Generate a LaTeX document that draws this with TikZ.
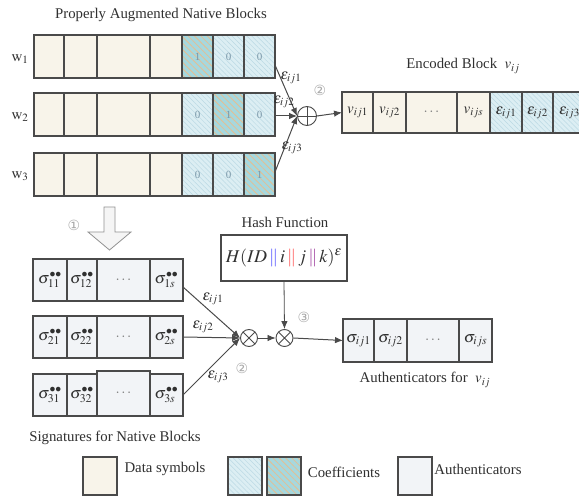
\documentclass[tikz,border=0pt]{standalone}
\usepackage{mathptmx}
\usepackage{fontspec}
\setmainfont{Liberation Serif}
\newfontfamily\djv{DejaVu Sans}
\usetikzlibrary{arrows.meta,patterns.meta}
\definecolor{cream}{HTML}{F8F4EA}
\definecolor{lblue}{HTML}{DCEEF3}
\definecolor{hatchb}{HTML}{BBD9E4}
\definecolor{teal1}{HTML}{A6D8DE}
\definecolor{orng}{HTML}{E6BE92}
\definecolor{authc}{HTML}{F2F4F7}
\definecolor{edge}{HTML}{4A4A4A}
\definecolor{txt}{HTML}{303030}
\definecolor{numc}{HTML}{7A97A8}
\definecolor{circc}{HTML}{A8A8A8}
\newcommand\mkcell[7]{%
  \node[#1, minimum width={(#4-#3)*1pt}, minimum height={(#6-#5)*1pt}] (#2) at ({(#3+#4)/2},{(#5+#6)/2}) {#7};}
\newcommand\sigdd{\sigma^{\bullet\bullet}}
\tikzset{
  every node/.style={text=txt},
  blk/.style={draw=edge, line width=1.1pt, inner sep=0pt, outer sep=0pt},
  data/.style={blk, fill=cream},
  coef/.style={blk, preaction={fill=lblue}, pattern={Lines[angle=-45,distance=3.5pt,line width=0.5pt]}, pattern color=hatchb},
  coefone/.style={blk, preaction={fill=teal1}, pattern={Lines[angle=-45,distance=4.5pt,line width=0.8pt]}, pattern color=orng},
  auth/.style={blk, fill=authc},
  lbl/.style={font=\fontsize{14.8}{16}\selectfont, inner sep=0pt},
  num/.style={font=\fontsize{11}{12}\selectfont, text=numc},
  mth/.style={font=\fontsize{15}{17}\selectfont},
  sig/.style={font=\fontsize{16}{18}\selectfont},
  dig/.style={font=\djv\fontsize{14}{16}\selectfont, text=circc, inner sep=0pt},
  conn/.style={draw=edge, line width=1pt},
  tip/.style={-{Latex[length=8pt,width=6.5pt]}},
  oplus/.style={circle, draw=edge, line width=0.9pt, minimum size=19pt, inner sep=0pt,
    path picture={\draw[edge,line width=0.9pt] (path picture bounding box.north) -- (path picture bounding box.south)
      (path picture bounding box.west) -- (path picture bounding box.east);}},
  otimes/.style={circle, draw=edge, line width=0.9pt, minimum size=17pt, inner sep=0pt,
    path picture={\draw[edge,line width=0.9pt] (path picture bounding box.north west) -- (path picture bounding box.south east)
      (path picture bounding box.north east) -- (path picture bounding box.south west);}},
}
\begin{document}
\begin{tikzpicture}[x=1pt,y=-1pt]
\useasboundingbox (0,0) rectangle (579,497);
\clip (0,0) rectangle (579,497);
\fill[white] (0,0) rectangle (579,497);

% title
\node[lbl] (title) at (161,15) {Properly Augmented Native Blocks};

% native blocks
\foreach \r/\t/\b in {1/35/78,2/93/136,3/153/196}{
  \mkcell{data}{w\r c1}{34}{64}{\t}{\b}{}
  \mkcell{data}{w\r c2}{64}{97}{\t}{\b}{}
  \mkcell{data}{w\r c3}{97}{150}{\t}{\b}{}
  \mkcell{data}{w\r c4}{150}{182}{\t}{\b}{}
}
\mkcell{coefone,num}{w1c5}{182}{213}{35}{78}{1}
\mkcell{coef,num}{w1c6}{213}{244}{35}{78}{0}
\mkcell{coef,num}{w1c7}{244}{275}{35}{78}{0}
\mkcell{coef,num}{w2c5}{182}{213}{93}{136}{0}
\mkcell{coefone,num}{w2c6}{213}{244}{93}{136}{1}
\mkcell{coef,num}{w2c7}{244}{275}{93}{136}{0}
\mkcell{coef,num}{w3c5}{182}{213}{153}{196}{0}
\mkcell{coef,num}{w3c6}{213}{244}{153}{196}{0}
\mkcell{coefone,num}{w3c7}{244}{275}{153}{196}{1}

\node[mth] (lw1) at (20,59) {$\mathrm{w}_1$};
\node[mth] (lw2) at (20,117) {$\mathrm{w}_2$};
\node[mth] (lw3) at (20,176) {$\mathrm{w}_3$};

% combination (upper)
\node[oplus] (plus) at (307,116) {};
\coordinate (o1) at (275,65);
\coordinate (o2) at (275,116);
\coordinate (o3) at (275,172);
\draw[conn,tip] (o1) -- (plus.west);
\draw[conn,tip] (o2) -- (plus.west);
\draw[conn,tip] (o3) -- (plus.west);
\node[mth] (e1) at (291,78) {$\varepsilon_{ij1}$};
\node[mth] (e2) at (284,102) {$\varepsilon_{ij2}$};
\node[mth] (e3) at (292,148) {$\varepsilon_{ij3}$};
\node[dig] (d2a) at (320,90) {②};

% encoded block
\mkcell{data,mth}{v1}{342}{373}{92}{133}{$v_{ij1}$}
\mkcell{data,mth}{v2}{373}{406}{92}{133}{$v_{ij2}$}
\mkcell{data,mth,text=gray}{v3}{406}{457}{92}{133}{$\cdots$}
\mkcell{data,mth}{v4}{457}{490}{92}{133}{$v_{ijs}$}
\mkcell{coef,mth}{v5}{490}{522}{92}{133}{$\varepsilon_{ij1}$}
\mkcell{coef,mth}{v6}{522}{553}{92}{133}{$\varepsilon_{ij2}$}
\mkcell{coef,mth}{v7}{553}{586}{92}{133}{$\varepsilon_{ij3}$}
\draw[conn,tip] (plus.east) -- (v1.west);
\node[lbl] (enc) at (463,66) {Encoded Block \ $v_{ij}$};

% big down arrow
\draw[draw=edge!60, fill=white!96!black, line width=0.8pt]
  (104,207) -- (115,207) -- (115,232) -- (131,232) -- (109.5,250) -- (88,232) -- (104,232) -- cycle;
\node[dig] (d1) at (74,225) {①};

% signatures
\foreach \r/\t/\b in {1/259/301,2/316/358,3/374/416}{
  \mkcell{auth,sig}{s\r c1}{33}{67}{\t}{\b}{$\sigdd_{\r1}$}
  \mkcell{auth,sig}{s\r c2}{67}{97}{\t}{\b}{$\sigdd_{\r2}$}
  \mkcell{auth,sig}{s\r c4}{150}{183}{\t}{\b}{$\sigdd_{\r s}$}
}
\mkcell{auth,mth,text=gray}{s1c3}{97}{150}{259}{301}{$\cdots$}
\mkcell{auth,mth,text=gray}{s2c3}{97}{150}{316}{358}{$\cdots$}
\mkcell{auth,mth,text=gray}{s3c3}{97}{150}{371}{416}{$\cdots$}
\node[lbl] (sigl) at (115,438) {Signatures for Native Blocks};

% combination (lower)
\node[otimes] (mul1) at (249,338) {};
\node[otimes] (mul2) at (284.5,338) {};
\coordinate (q1) at (183,287);
\coordinate (q2) at (183,337);
\coordinate (q3) at (183,395);
\draw[conn,tip] (q1) -- (mul1.west);
\draw[conn,tip] (q2) -- (mul1.west);
\draw[conn,tip] (q3) -- (mul1.west);
\node[mth] (f1) at (213,299) {$\varepsilon_{ij1}$};
\node[mth] (f2) at (203,327) {$\varepsilon_{ij2}$};
\node[mth] (f3) at (218,377) {$\varepsilon_{ij3}$};
\node[dig] (d2b) at (242,368) {②};
\draw[conn,tip,line width=0.8pt] (mul1.east) -- (mul2.west);

% hash
\node[lbl] (hashl) at (285,222) {Hash Function};
\node[blk, fill=white, minimum width=126pt, minimum height=46pt] (hash) at (284,258)
  {\fontsize{18}{20}\selectfont $H(ID\,{\color{blue!70}\|}\,i\,{\color{red!70}\|}\,j\,{\color{violet!80}\|}\,k)^{\varepsilon}$};
\draw[conn,tip,line width=0.8pt] (hash.south) -- (mul2.north);
\node[dig] (d3) at (304,317) {③};

% authenticators
\mkcell{auth,sig}{a1}{343}{374}{319}{362}{$\sigma_{ij1}$}
\mkcell{auth,sig}{a2}{374}{407}{319}{362}{$\sigma_{ij2}$}
\mkcell{auth,mth,text=gray}{a3}{407}{459}{319}{362}{$\cdots$}
\mkcell{auth,sig}{a4}{459}{492}{319}{362}{$\sigma_{ijs}$}
\draw[conn,tip] (mul2.east) -- (a1.west);
\node[lbl] (authl) at (425,380) {Authenticators for \ $v_{ij}$};

% legend
\mkcell{data}{lg1}{83}{117}{457}{495}{}
\node[lbl] (lgt1) at (165,469) {Data symbols};
\mkcell{coef}{lg2}{228}{262}{457}{495}{}
\mkcell{coefone}{lg3}{267}{301}{457}{495}{}
\node[lbl] (lgt2) at (344,472) {Coefficients};
\mkcell{auth}{lg4}{398}{432}{457}{495}{}
\node[lbl] (lgt3) at (478,469) {Authenticators};
\end{tikzpicture}
\end{document}
